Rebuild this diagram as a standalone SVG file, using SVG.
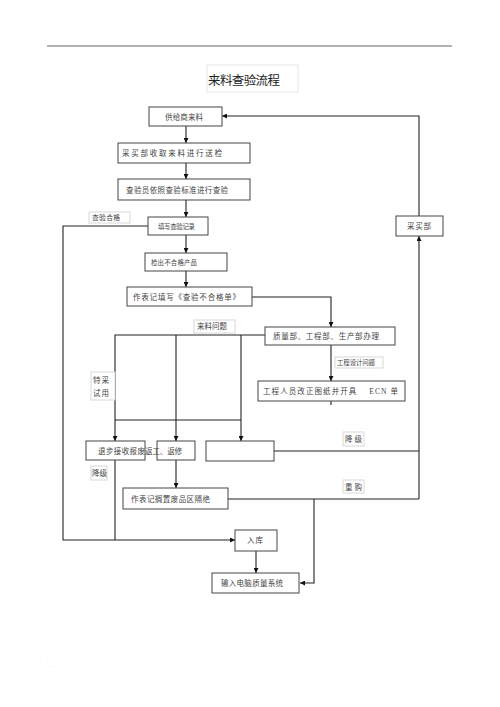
<svg xmlns="http://www.w3.org/2000/svg" width="500" height="707" viewBox="0 0 500 707">
<style>
.bg{fill:#fff}
.box{fill:#fff;stroke:#444;stroke-width:1}
.lbl{fill:#fff;stroke:#d8d8d8;stroke-width:1}
.t{font-family:"Liberation Serif","Noto Sans CJK SC",serif;font-size:7.5px;fill:#444}
.s{font-size:6.4px}
.m{font-size:6.8px}
.title{font-family:"Liberation Serif","Noto Sans CJK SC",serif;font-size:12.5px;fill:#222}
.c{fill:none;stroke:#222;stroke-width:1.1}
</style>
<defs>
<marker id="ah" viewBox="0 0 8 8" refX="8" refY="4" markerWidth="5" markerHeight="5" orient="auto" markerUnits="userSpaceOnUse">
<path d="M0,0 L8,4 L0,8 z" fill="#111"/>
</marker>
</defs>
<rect class="bg" x="0" y="0" width="500" height="707"/>
<line x1="47" y1="46" x2="452" y2="46" stroke="#999" stroke-width="1.5"/>
<text x="449" y="44" font-family="Liberation Sans,sans-serif" font-size="5" fill="#999">.</text>
<text x="47" y="662" font-family="Liberation Sans,sans-serif" font-size="5" fill="#999">.</text>
<text x="50" y="667" font-family="Liberation Sans,sans-serif" font-size="5" fill="#999">.</text>

<g id="connectors">
<line class="c" x1="186" y1="126" x2="186" y2="143" marker-end="url(#ah)"/>
<line class="c" x1="186" y1="163" x2="186" y2="179" marker-end="url(#ah)"/>
<line class="c" x1="186" y1="200" x2="186" y2="217" marker-end="url(#ah)"/>
<line class="c" x1="186" y1="235" x2="186" y2="253" marker-end="url(#ah)"/>
<line class="c" x1="186" y1="271" x2="186" y2="287" marker-end="url(#ah)"/>
<path class="c" d="M252,297 H331 V327" marker-end="url(#ah)"/>
<path class="c" d="M265,335 H115 V441" marker-end="url(#ah)"/>
<line class="c" x1="176" y1="335" x2="176" y2="441" marker-end="url(#ah)"/>
<line class="c" x1="241" y1="335" x2="241" y2="441" marker-end="url(#ah)"/>
<line class="c" x1="115" y1="420" x2="241" y2="420"/>
<line class="c" x1="331" y1="345" x2="331" y2="381" marker-end="url(#ah)"/>
<line class="c" x1="331" y1="401" x2="331" y2="405"/>
<path class="c" d="M148,226 H63 V540 H235" marker-end="url(#ah)"/>
<line class="c" x1="115" y1="460" x2="115" y2="540"/>
<line class="c" x1="176" y1="460" x2="176" y2="488" marker-end="url(#ah)"/>
<line class="c" x1="274" y1="451" x2="419" y2="451"/>
<line class="c" x1="228" y1="499" x2="419" y2="499"/>
<line class="c" x1="419" y1="499" x2="419" y2="236" marker-end="url(#ah)"/>
<path class="c" d="M419,216 V116 H222" marker-end="url(#ah)"/>
<path class="c" d="M314,499 V583 H300" marker-end="url(#ah)"/>
<line class="c" x1="256" y1="551" x2="256" y2="573" marker-end="url(#ah)"/>
</g>

<g id="title">
<rect x="207" y="65" width="91" height="27" fill="#fff" stroke="#e6e6e6"/>
<text class="title" x="208" y="85" textLength="72" lengthAdjust="spacing">来料查验流程</text>
</g>
<g id="n1">
<rect class="box" x="149" y="107" width="73" height="19"/>
<text class="t" x="165" y="120" textLength="38" lengthAdjust="spacing">供给商来料</text>
</g>
<g id="n2">
<rect class="box" x="118" y="143" width="132" height="20"/>
<text class="t" x="122" y="156" textLength="100" lengthAdjust="spacing">采买部收取来料进行送检</text>
</g>
<g id="n3">
<rect class="box" x="118" y="179" width="132" height="21" stroke-width="1.6"/>
<text class="t" x="126" y="193" textLength="102" lengthAdjust="spacing">查验员依照查验标准进行查验</text>
</g>
<g id="lbl-pass">
<rect class="lbl" x="89" y="212" width="41" height="11"/>
<text class="t m" x="92" y="220" textLength="28" lengthAdjust="spacing">查验合格</text>
</g>
<g id="n4">
<rect class="box" x="148" y="217" width="60" height="18"/>
<text class="t s" x="158" y="229" textLength="37" lengthAdjust="spacing">填写查验记录</text>
</g>
<g id="n5">
<rect class="box" x="145" y="253" width="82" height="18"/>
<text class="t s" x="151" y="265" textLength="46" lengthAdjust="spacing">检出不合格产品</text>
</g>
<g id="n6">
<rect class="box" x="127" y="287" width="125" height="19"/>
<text class="t" x="133" y="300" textLength="107" lengthAdjust="spacing">作表记填写《查验不合格单》</text>
</g>
<g id="lbl-material">
<rect class="lbl" x="194" y="320" width="41" height="13"/>
<text class="t" x="197" y="329" textLength="30" lengthAdjust="spacing">来料问题</text>
</g>
<g id="n7">
<rect class="box" x="265" y="327" width="130" height="18"/>
<text class="t" x="273" y="339" textLength="106" lengthAdjust="spacing">质量部、工程部、生产部办理</text>
</g>
<g id="lbl-design">
<rect class="lbl" x="335" y="357" width="48" height="11"/>
<text class="t s" x="337" y="365" textLength="38" lengthAdjust="spacing">工程设计问题</text>
</g>
<g id="n8">
<rect class="box" x="258" y="381" width="147" height="20"/>
<text class="t" x="263" y="394" textLength="135" lengthAdjust="spacing" xml:space="preserve">工程人员改正图纸并开具    ECN 单</text>
</g>
<g id="lbl-special">
<rect class="lbl" x="91" y="372" width="24" height="28"/>
<text class="t" x="93" y="383" textLength="16" lengthAdjust="spacing">特采</text>
<text class="t" x="93" y="396" textLength="16" lengthAdjust="spacing">试用</text>
</g>
<g id="n9">
<rect class="box" x="86" y="441" width="59" height="19"/>
<text class="t" x="98" y="454" textLength="47" lengthAdjust="spacing">退步接收报废</text>
</g>
<g id="n10">
<rect class="box" x="157" y="441" width="38" height="19"/>
<text class="t" x="145" y="454" textLength="37" lengthAdjust="spacing">返工、返修</text>
</g>
<g id="n11">
<rect class="box" x="206" y="441" width="68" height="20"/>
</g>
<g id="lbl-down1">
<rect class="lbl" x="91" y="466" width="16" height="14"/>
<text class="t" x="92" y="476" textLength="15" lengthAdjust="spacing">降级</text>
</g>
<g id="lbl-down2">
<rect class="lbl" x="343" y="432" width="21" height="14"/>
<text class="t" x="345" y="442" textLength="17" lengthAdjust="spacing">降级</text>
</g>
<g id="lbl-rebuy">
<rect class="lbl" x="343" y="480" width="21" height="13"/>
<text class="t" x="345" y="490" textLength="17" lengthAdjust="spacing">重购</text>
</g>
<g id="n12">
<rect class="box" x="123" y="488" width="105" height="21"/>
<text class="t" x="131" y="502" textLength="79" lengthAdjust="spacing">作表记搁置废品区隔绝</text>
</g>
<g id="n13">
<rect class="box" x="235" y="530" width="42" height="21"/>
<text class="t" x="247" y="543" textLength="16" lengthAdjust="spacing">入库</text>
</g>
<g id="n14">
<rect class="box" x="212" y="573" width="87" height="20"/>
<text class="t" x="221" y="586" textLength="62" lengthAdjust="spacing">输入电脑质量系统</text>
</g>
<g id="n15">
<rect class="box" x="396" y="216" width="47" height="20"/>
<text class="t" x="407" y="229" textLength="24" lengthAdjust="spacing">采买部</text>
</g>
</svg>
